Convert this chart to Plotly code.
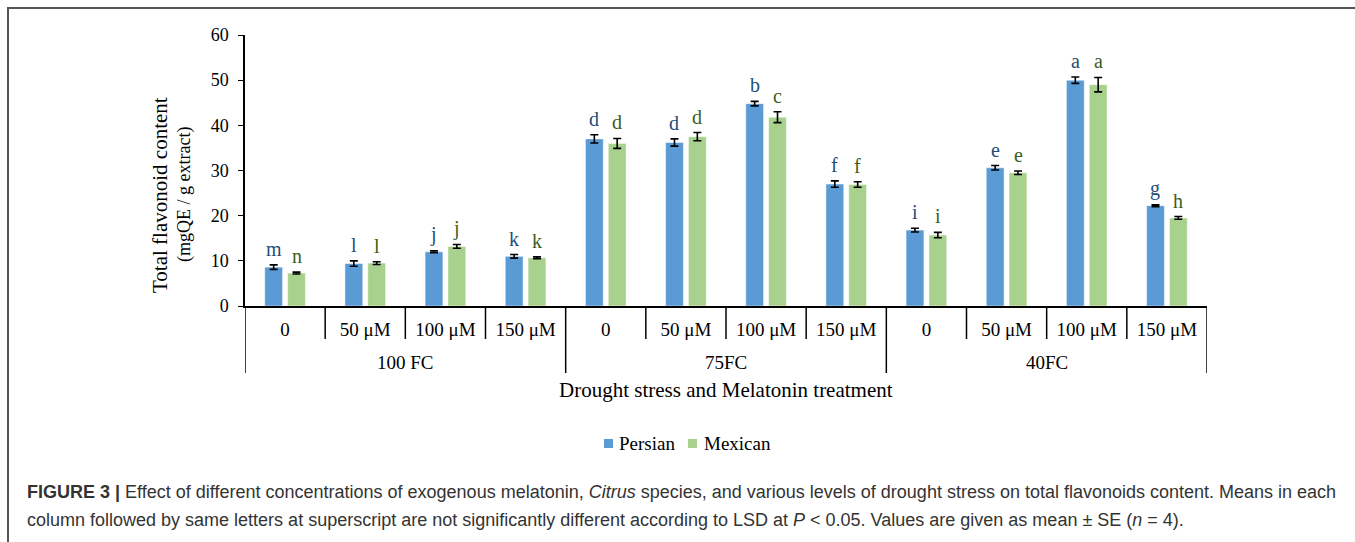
import plotly.graph_objects as go

# ---- data -----------------------------------------------------------------
drought_levels = ["100 FC", "75FC", "40FC"]
melatonin_doses = ["0", "50 μM", "100 μM", "150 μM"]

persian_mean = [8.6, 9.4, 12.0, 11.0, 37.0, 36.2, 44.8, 27.0, 16.8, 30.6, 50.0, 22.2]
persian_se = [0.5, 0.6, 0.2, 0.4, 0.9, 0.8, 0.5, 0.7, 0.4, 0.5, 0.7, 0.2]
persian_letters = ["m", "l", "j", "k", "d", "d", "b", "f", "i", "e", "a", "g"]

mexican_mean = [7.3, 9.5, 13.2, 10.7, 36.0, 37.5, 41.8, 26.9, 15.7, 29.5, 49.0, 19.5]
mexican_se = [0.2, 0.3, 0.4, 0.2, 1.1, 0.9, 1.2, 0.6, 0.6, 0.4, 1.6, 0.3]
mexican_letters = ["n", "l", "j", "k", "d", "d", "c", "f", "i", "e", "a", "h"]

series_names = ["Persian", "Mexican"]
y_ticks = [0, 10, 20, 30, 40, 50, 60]

# ---- styling / geometry ---------------------------------------------------
W, H = 1355, 542
ML, MR, MT, MB = 245, 148, 35, 236
PW, PH = W - ML - MR, H - MT - MB

SERIF = "Liberation Serif, Times New Roman, serif"
SANS = "Liberation Sans, Arial, sans-serif"
BAR_COLORS = ["#5B9BD5", "#A9D18E"]
LETTER_COLORS = ["#1F4E79", "#3A5E22"]
BARGAP = 0.43
BARGROUPGAP = 0.22


def px_x(px):
    return (px - ML) / PW


def px_y(py):
    return (H - MB - py) / PH


n_dose = len(melatonin_doses)
n_cat = len(drought_levels) * n_dose
xs = list(range(n_cat))
tick_text = [melatonin_doses[i % n_dose] for i in xs]

fig = go.Figure()
for name, mean, se, col in zip(series_names, [persian_mean, mexican_mean],
                               [persian_se, mexican_se], BAR_COLORS):
    fig.add_trace(go.Bar(
        x=xs, y=mean, name=name, showlegend=False,
        marker=dict(color=col, line=dict(color="rgba(255,255,255,0.6)", width=0.8)),
        error_y=dict(type="data", array=se, visible=True,
                     color="black", thickness=1.6, width=4),
    ))

# significance letters above each bar
slot = (1 - BARGAP) / 2
for k, (mean, se, letters) in enumerate(
        [(persian_mean, persian_se, persian_letters),
         (mexican_mean, mexican_se, mexican_letters)]):
    off = (k - 0.5) * slot
    for i in xs:
        fig.add_annotation(
            x=i + off, y=mean[i] + se[i], text=letters[i],
            showarrow=False, yanchor="bottom", yshift=3,
            font=dict(family=SERIF, size=20, color=LETTER_COLORS[k]),
        )

# dividers of the two-level category axis
shapes = []
for b in range(n_cat + 1):
    long_line = b % n_dose == 0
    shapes.append(dict(
        type="line", xref="x", yref="paper",
        x0=b - 0.5, x1=b - 0.5, y0=0, y1=px_y(373 if long_line else 339),
        line=dict(color="black", width=1.5),
    ))

# outer frame (top and left rules)
shapes.append(dict(type="line", xref="paper", yref="paper",
                   x0=px_x(7), x1=px_x(W), y0=px_y(8), y1=px_y(8),
                   line=dict(color="#555555", width=2)))
shapes.append(dict(type="line", xref="paper", yref="paper",
                   x0=px_x(8), x1=px_x(8), y0=px_y(7), y1=px_y(H),
                   line=dict(color="#555555", width=2)))

# legend: small colour keys followed by series names
legend_items = [(604, 617), (688, 702)]
for (kx, tx), name, col in zip(legend_items, series_names, BAR_COLORS):
    shapes.append(dict(type="rect", xref="paper", yref="paper",
                       x0=px_x(kx), x1=px_x(kx + 9), y0=px_y(439), y1=px_y(448),
                       fillcolor=col, line=dict(width=0)))
    fig.add_annotation(
        x=px_x(tx), y=px_y(443), xref="paper", yref="paper", text=name,
        showarrow=False, xanchor="left", yanchor="middle",
        font=dict(family=SERIF, size=19, color="black"),
    )

# drought level labels
for g, lvl in enumerate(drought_levels):
    fig.add_annotation(
        x=g * n_dose + (n_dose - 1) / 2, xref="x", y=px_y(362), yref="paper",
        text=lvl, showarrow=False, yanchor="middle",
        font=dict(family=SERIF, size=19, color="black"),
    )

# axis titles
fig.add_annotation(
    x=px_x(726), y=px_y(390), xref="paper", yref="paper",
    text="Drought stress and Melatonin treatment", showarrow=False,
    yanchor="middle", font=dict(family=SERIF, size=21, color="black"),
)
fig.add_annotation(
    x=px_x(160), y=px_y(195), xref="paper", yref="paper",
    text="Total flavonoid content", textangle=-90, showarrow=False,
    xanchor="center", yanchor="middle",
    font=dict(family=SERIF, size=21, color="black"),
)
fig.add_annotation(
    x=px_x(184), y=px_y(195), xref="paper", yref="paper",
    text="(mgQE / g extract)", textangle=-90, showarrow=False,
    xanchor="center", yanchor="middle",
    font=dict(family=SERIF, size=18, color="black"),
)

# figure caption
caption_1 = ("<b>FIGURE 3 |</b> Effect of different concentrations of exogenous melatonin, "
             "<i>Citrus</i> species, and various levels of drought stress on total "
             "flavonoids content. Means in each")
caption_2 = ("column followed by same letters at superscript are not significantly different "
             "according to LSD at <i>P</i> &lt; 0.05. Values are given as mean ± SE (<i>n</i> = 4).")
for txt, py in [(caption_1, 492), (caption_2, 520)]:
    fig.add_annotation(
        x=px_x(25), y=px_y(py), xref="paper", yref="paper", text=txt,
        showarrow=False, xanchor="left", yanchor="middle", align="left",
        font=dict(family=SANS, size=18, color="#333333"),
    )

fig.update_layout(
    width=W, height=H,
    margin=dict(l=ML, r=MR, t=MT, b=MB, autoexpand=False),
    paper_bgcolor="white", plot_bgcolor="white",
    barmode="group", bargap=BARGAP, bargroupgap=BARGROUPGAP,
    shapes=shapes,
    showlegend=False,
    xaxis=dict(
        range=[-0.5, n_cat - 0.5], tickmode="array", tickvals=xs, ticktext=tick_text,
        ticks="", showline=True, linecolor="black", linewidth=1.5,
        showgrid=False, zeroline=False, ticklabelstandoff=5,
        tickfont=dict(family=SERIF, size=19, color="black"),
    ),
    yaxis=dict(
        range=[0, 60], tickmode="array", tickvals=y_ticks,
        ticks="outside", ticklen=5, tickwidth=1.3, tickcolor="black",
        showline=True, linecolor="black", linewidth=1.5,
        showgrid=False, zeroline=False, ticklabelstandoff=6,
        tickfont=dict(family=SERIF, size=18, color="black"),
    ),
)

fig.write_html("out.html")
